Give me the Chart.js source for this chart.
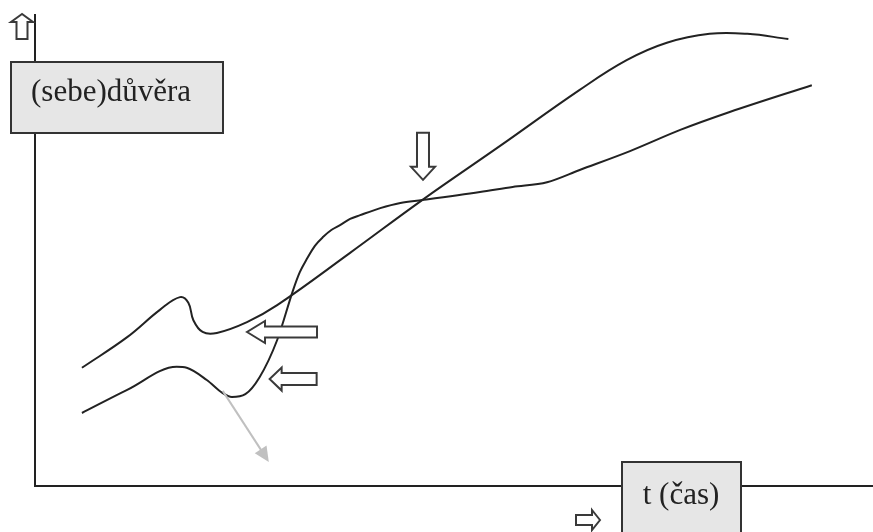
<!DOCTYPE html>
<html>
<head>
<meta charset="utf-8">
<script src="https://cdn.jsdelivr.net/npm/chart.js@4/dist/chart.umd.min.js"></script>
<style>
  html, body { margin: 0; padding: 0; background: #fff; }
  #chart { display: block; }
</style>
</head>
<body>
<canvas id="chart" width="873" height="532"></canvas>
<script>
// curve 1: early confidence, dip, then steady rise
const timeA = [5.6, 11.0, 14.9, 17.3, 18.3, 18.9, 20.0, 21.7, 25.3, 28.9, 37.6, 46.2, 55.5, 65.0, 70.6, 75.4, 80.5, 85.0, 89.9];
const confA = [25.1, 31.6, 37.4, 40.1, 38.9, 35.2, 32.7, 32.5, 34.8, 38.4, 49.5, 60.7, 72.2, 84.1, 90.4, 94.1, 96.0, 96.0, 94.9];

// curve 2: lower start, steep S, plateau, slow rise
const timeB = [5.6, 11.0, 16.9, 18.1, 20.5, 22.4, 23.5, 25.1, 26.8, 28.9, 30.8, 31.6, 32.5, 33.4, 34.4, 35.4, 36.4, 37.6, 38.8, 41.2, 43.6, 46.2, 53.1, 57.0, 61.1, 65.0, 71.0, 77.0, 82.9, 92.7];
const confB = [15.5, 20.4, 25.3, 25.1, 22.5, 19.7, 18.9, 19.5, 23.1, 31.0, 41.6, 45.4, 48.4, 51.0, 52.9, 54.4, 55.4, 56.7, 57.5, 59.0, 60.1, 60.7, 62.4, 63.5, 64.5, 67.1, 71.1, 75.6, 79.4, 85.1];

const yLabel = '(sebe)důvěra';
const xLabel = 't (čas)';

const toPoints = (xs, ys) => xs.map((x, i) => ({ x, y: ys[i] }));

// hollow block arrow, tip at (x, y), pointing along angle dir
function blockArrow(ctx, x, y, dir, len, headLen, headW, shaftW) {
    ctx.save();
    ctx.translate(x, y);
    ctx.rotate(dir);
    ctx.beginPath();
    ctx.moveTo(0, 0);
    ctx.lineTo(-headLen, -headW);
    ctx.lineTo(-headLen, -shaftW);
    ctx.lineTo(-len, -shaftW);
    ctx.lineTo(-len, shaftW);
    ctx.lineTo(-headLen, shaftW);
    ctx.lineTo(-headLen, headW);
    ctx.closePath();
    ctx.fillStyle = '#fff';
    ctx.fill();
    ctx.strokeStyle = '#3a3a3a';
    ctx.lineWidth = 2;
    ctx.stroke();
    ctx.restore();
}

function labelBox(ctx, x1, y1, x2, y2, text, tx, ty, align) {
    ctx.save();
    ctx.fillStyle = '#e6e6e6';
    ctx.fillRect(x1, y1, x2 - x1, y2 - y1);
    ctx.strokeStyle = '#333';
    ctx.lineWidth = 2;
    ctx.strokeRect(x1, y1, x2 - x1, y2 - y1);
    ctx.fillStyle = '#222';
    ctx.font = '31px "Liberation Serif", "Times New Roman", serif';
    ctx.textAlign = align;
    ctx.textBaseline = 'alphabetic';
    ctx.fillText(text, tx, ty);
    ctx.restore();
}

const decorations = {
    id: 'decorations',
    afterDraw(chart) {
        const ctx = chart.ctx;
        const xs = chart.scales.x, ys = chart.scales.y;
        const a = chart.chartArea;
        const px = v => xs.getPixelForValue(v);
        const py = v => ys.getPixelForValue(v);

        // axis arrows
        blockArrow(ctx, a.left - 13, a.top - 1, -Math.PI / 2, 25, 8, 11, 5.5);
        blockArrow(ctx, a.left + 565, a.bottom + 34, 0, 24, 8, 10, 5);

        // axis titles
        labelBox(ctx, 11, a.top + 47, 223, a.top + 118, yLabel, 31, a.top + 86, 'left');
        labelBox(ctx, 622, a.bottom - 24, 741, a.bottom + 60, xLabel, 681, a.bottom + 18, 'center');

        // pointers
        blockArrow(ctx, px(46.3), py(65.0), Math.PI / 2, 47, 13, 12, 6);
        blockArrow(ctx, px(25.3), py(32.7), Math.PI, 70, 18, 11, 5.5);
        blockArrow(ctx, px(28.0), py(22.7), Math.PI, 47, 12, 11.5, 6);

        // grey pointer
        const x0 = px(22.4), y0 = py(20.2), x1 = px(27.9), y1 = py(5.1);
        const ang = Math.atan2(y1 - y0, x1 - x0);
        ctx.save();
        ctx.strokeStyle = '#c0c0c0';
        ctx.fillStyle = '#c0c0c0';
        ctx.lineWidth = 2;
        ctx.beginPath();
        ctx.moveTo(x0, y0);
        ctx.lineTo(x1 - 12 * Math.cos(ang), y1 - 12 * Math.sin(ang));
        ctx.stroke();
        ctx.translate(x1, y1);
        ctx.rotate(ang);
        ctx.beginPath();
        ctx.moveTo(0, 0);
        ctx.lineTo(-15, -7);
        ctx.lineTo(-15, 7);
        ctx.closePath();
        ctx.fill();
        ctx.restore();
    }
};

const lineStyle = {
    borderColor: '#222',
    borderWidth: 2,
    pointRadius: 0,
    fill: false,
    tension: 0.4
};

new Chart(document.getElementById('chart'), {
    type: 'line',
    data: {
        datasets: [
            { label: 'A', data: toPoints(timeA, confA), ...lineStyle },
            { label: 'B', data: toPoints(timeB, confB), ...lineStyle, cubicInterpolationMode: 'monotone' }
        ]
    },
    options: {
        responsive: false,
        animation: false,
        layout: { padding: { left: 35, top: 15, right: 0, bottom: 46 } },
        plugins: { legend: { display: false }, tooltip: { enabled: false } },
        scales: {
            x: {
                type: 'linear', min: 0, max: 100,
                grid: { display: false, drawTicks: false },
                ticks: { display: false },
                border: { display: true, color: '#222', width: 2 }
            },
            y: {
                type: 'linear', min: 0, max: 100,
                grid: { display: false, drawTicks: false },
                ticks: { display: false },
                border: { display: true, color: '#222', width: 2 }
            }
        }
    },
    plugins: [decorations]
});
</script>
</body>
</html>
